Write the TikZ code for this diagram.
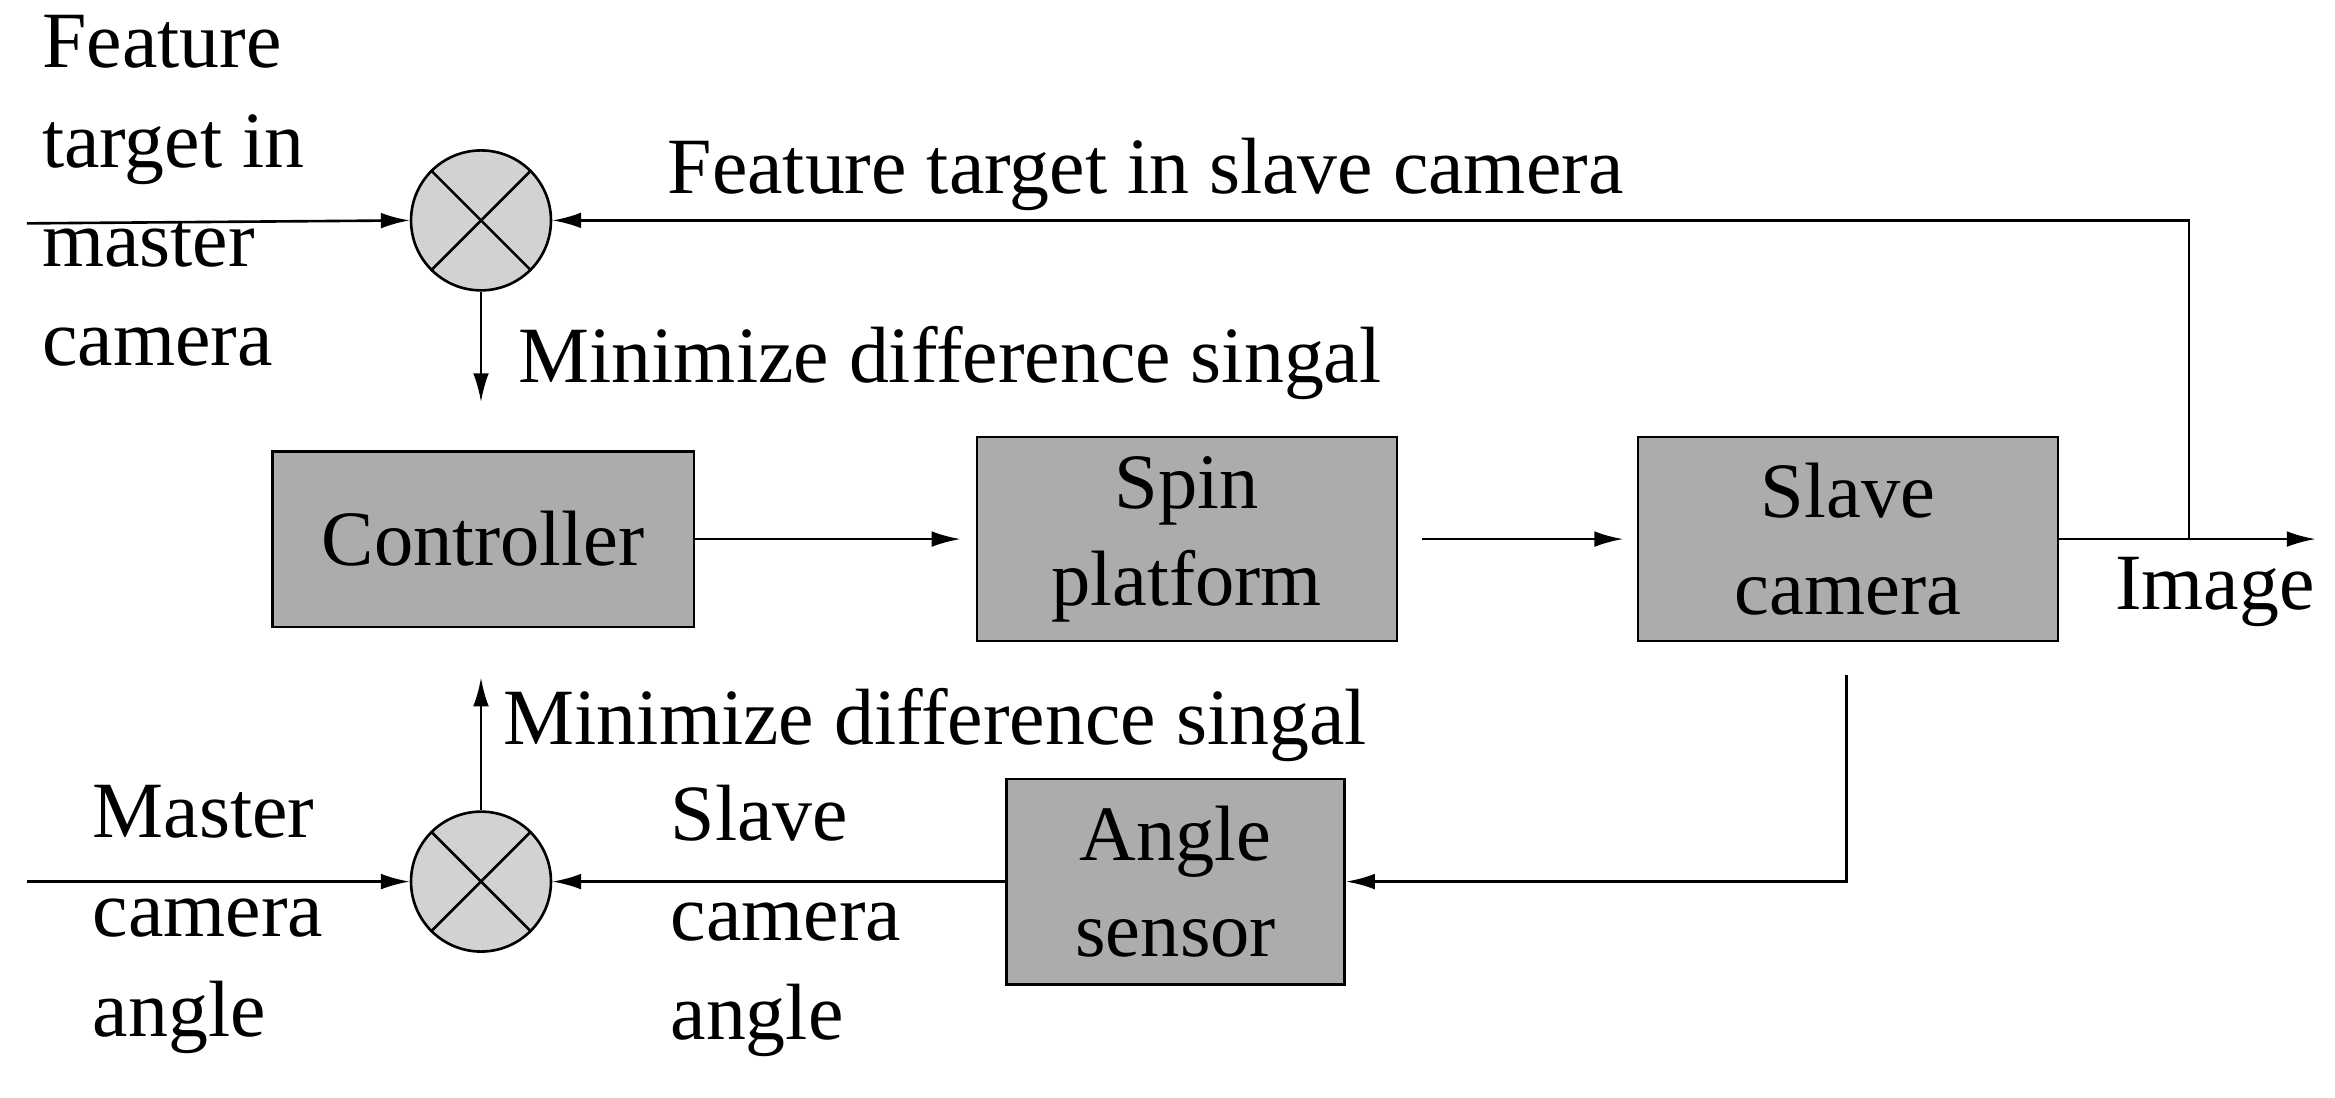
\documentclass[tikz,border=0pt]{standalone}
\usepackage{fontspec}
\setmainfont{Liberation Serif}
\usetikzlibrary{arrows.meta}
\begin{document}
\begin{tikzpicture}[x=0.02cm,y=-0.02cm,
  blk/.style={draw,fill=gray!65,line width=1pt,align=center,font=\fontsize{30}{37}\selectfont},
  lbl/.style={inner sep=0pt,align=left,font=\fontsize{30.5}{38}\selectfont},
  sumc/.style={draw,circle,fill=gray!35,line width=1pt,minimum size=1.88cm,inner sep=0pt},
  arr/.style={line width=1pt,-{Latex[length=11pt,width=6pt]}},
  ln/.style={line width=1pt}]
\useasboundingbox (0,0) rectangle (1568,737);
\node[sumc] (s1) at (323,148) {};
\node[sumc] (s2) at (323,592) {};
\foreach \s in {s1,s2}{
  \draw[ln] (\s.north west)--(\s.south east) (\s.north east)--(\s.south west);}
\node[blk,minimum width=5.66cm,minimum height=2.36cm] (ctl) at (324.5,362) {Controller};
\node[blk,minimum width=5.64cm,minimum height=2.74cm] (spin) at (797,362) {Spin\\platform};
\node[blk,minimum width=5.64cm,minimum height=2.74cm] (cam) at (1241,362) {Slave\\camera};
\node[blk,minimum width=4.54cm,minimum height=2.76cm] (ang) at (789.5,592) {Angle\\sensor};
\coordinate (in1) at (18,150);
\coordinate (in2) at (18,592);
\coordinate (out) at (1555,362);
\coordinate (tap) at (1470,362);
\coordinate (d1) at (323,270);
\coordinate (cs) at (1240,453);
\coordinate (u2) at (323,455);
\coordinate (sp) at (955,362);
\coordinate (cl) at (1090,362);
\coordinate (cp) at (645,362);
\draw[arr] (in1) -- (s1.west);
\draw[arr] (in2) -- (s2.west);
\draw[arr] (tap) |- (s1.east);
\draw[arr] (s1.south) -- (d1);
\draw[arr] (ctl.east) -- (cp);
\draw[arr] (sp) -- (cl);
\draw[arr] (cam.east) -- (out);
\draw[arr] (cs) |- (ang.east);
\draw[arr] (ang.west) -- (s2.east);
\draw[arr] (s2.north) -- (u2);
\node[lbl,anchor=north west] at (28,10) {Feature\\target in\\master\\camera};
\node[lbl,anchor=base west] at (448,130) {Feature target in slave camera};
\node[lbl,anchor=base west] at (348,257) {Minimize difference singal};
\node[lbl,anchor=base west] at (338,500) {Minimize difference singal};
\node[lbl,anchor=base west] at (1420,409) {Image};
\node[lbl,anchor=north west] at (62,527) {Master\\camera\\angle};
\node[lbl,anchor=north west] at (450,527) {Slave\\camera\\angle};
\end{tikzpicture}
\end{document}
